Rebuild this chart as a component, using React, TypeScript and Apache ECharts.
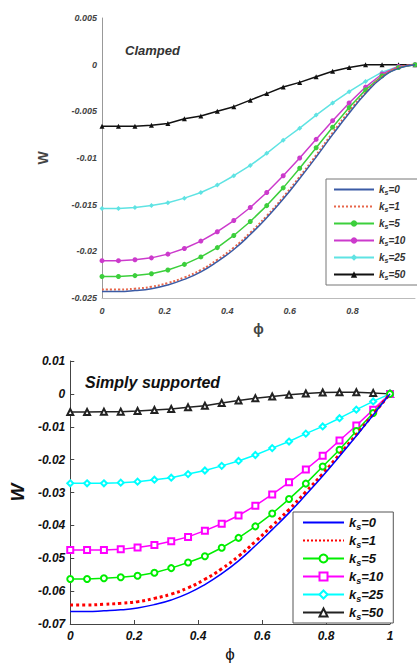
import React, { useEffect, useRef } from "react";
import * as echarts from "echarts";

// phi grid (20 points, markers)
const phi = [0, 0.0526, 0.1053, 0.1579, 0.2105, 0.2632, 0.3158, 0.3684, 0.4211, 0.4737, 0.5263, 0.5789, 0.6316, 0.6842, 0.7368, 0.7895, 0.8421, 0.8947, 0.9474, 1];

const legendNames = ["0", "1", "5", "10", "25", "50"];

// Clamped (top)
const clamped0 = [-0.0243, -0.0243, -0.0242, -0.024, -0.0236, -0.023, -0.0222, -0.0211, -0.0198, -0.0182, -0.0164, -0.0144, -0.0122, -0.0099, -0.0075, -0.0052, -0.0031, -0.0014, -0.0004, 0];
const clamped1 = [-0.0241, -0.0241, -0.024, -0.0238, -0.0234, -0.0228, -0.022, -0.0209, -0.0196, -0.018, -0.0162, -0.0142, -0.012, -0.0097, -0.0073, -0.005, -0.003, -0.0013, -0.0003, 0];
const clamped5 = [-0.0227, -0.0227, -0.0226, -0.0224, -0.022, -0.0214, -0.0206, -0.0196, -0.0183, -0.0168, -0.0151, -0.0132, -0.0111, -0.0089, -0.0067, -0.0046, -0.0027, -0.0012, -0.0003, 0];
const clamped10 = [-0.021, -0.021, -0.0209, -0.0207, -0.0203, -0.0197, -0.0189, -0.0179, -0.0167, -0.0153, -0.0137, -0.0119, -0.01, -0.008, -0.006, -0.0041, -0.0024, -0.001, -0.0002, 0];
const clamped25 = [-0.0154, -0.0154, -0.0153, -0.0151, -0.0148, -0.0143, -0.0137, -0.0129, -0.0119, -0.0108, -0.0095, -0.0081, -0.0068, -0.0054, -0.0041, -0.0029, -0.0018, -0.0008, -0.0002, 0];
const clamped50 = [-0.0066, -0.0066, -0.0066, -0.0065, -0.0063, -0.0058, -0.0055, -0.005, -0.0045, -0.0038, -0.0031, -0.0024, -0.0019, -0.0013, -0.0007, -0.0003, 0, 0, 0, 0];

// Simply supported (bottom)
const simple0 = [-0.0662, -0.0662, -0.066, -0.0657, -0.0651, -0.0641, -0.0627, -0.0607, -0.058, -0.0547, -0.0508, -0.0462, -0.0413, -0.0362, -0.0307, -0.025, -0.019, -0.0128, -0.0064, 0];
const simple1 = [-0.0642, -0.0642, -0.064, -0.0637, -0.0632, -0.0622, -0.0609, -0.059, -0.0564, -0.0532, -0.0494, -0.0449, -0.0401, -0.0352, -0.0298, -0.0243, -0.0184, -0.0124, -0.0062, 0];
const simple5 = [-0.0563, -0.0563, -0.0561, -0.0558, -0.0553, -0.0544, -0.053, -0.0513, -0.0494, -0.0468, -0.0438, -0.0403, -0.0364, -0.032, -0.0273, -0.0221, -0.017, -0.0113, -0.0058, 0];
const simple10 = [-0.0475, -0.0475, -0.0475, -0.0473, -0.0467, -0.046, -0.0448, -0.0435, -0.0416, -0.0395, -0.037, -0.034, -0.0306, -0.0269, -0.023, -0.0188, -0.0142, -0.0096, -0.0048, 0];
const simple25 = [-0.0272, -0.0272, -0.0272, -0.027, -0.0267, -0.0261, -0.0255, -0.0244, -0.0233, -0.0219, -0.0204, -0.0186, -0.0165, -0.0145, -0.0121, -0.0099, -0.0074, -0.0048, -0.0023, 0];
const simple50 = [-0.0055, -0.0055, -0.0054, -0.0054, -0.0052, -0.0049, -0.0046, -0.0041, -0.0036, -0.0028, -0.002, -0.0013, -0.0008, -0.0003, 0.0001, 0.0004, 0.0005, 0.0005, 0.0003, 0];

const pair = (ys: number[]) => ys.map((y, i) => [phi[i], y]);

const FONT = "Liberation Sans, Arial, sans-serif";

export default function App() {
  const ref = useRef<HTMLDivElement>(null);
  useEffect(() => {
    if (!ref.current) return;
    const chart = echarts.init(ref.current, null, { renderer: "svg" });

    const topColors = ["#3b5ba5", "#e8664a", "#3ccf3c", "#cc3acc", "#5fe3e3", "#111111"];
    const botColors = ["#0000ff", "#ff0000", "#00ee00", "#ff00ff", "#00ffff", "#222222"];
    const topData = [clamped0, clamped1, clamped5, clamped10, clamped25, clamped50];
    const botData = [simple0, simple1, simple5, simple10, simple25, simple50];
    const topSymbols = ["none", "none", "circle", "circle", "diamond", "triangle"];
    const botSymbols = ["none", "none", "emptyCircle", "emptyRect", "emptyDiamond", "emptyTriangle"];

    const series: any[] = [];
    topData.forEach((d, k) => {
      series.push({
        name: "c" + legendNames[k],
        type: "line",
        xAxisIndex: 0,
        yAxisIndex: 0,
        data: pair(d),
        smooth: k < 2,
        symbol: topSymbols[k],
        symbolSize: 5,
        showSymbol: k >= 2,
        lineStyle: { color: topColors[k], width: k === 1 ? 2 : 1.5, type: k === 1 ? "dotted" : "solid" },
        itemStyle: { color: topColors[k] },
        z: 10 - k,
      });
    });
    botData.forEach((d, k) => {
      series.push({
        name: "s" + legendNames[k],
        type: "line",
        xAxisIndex: 1,
        yAxisIndex: 1,
        data: pair(d),
        smooth: k < 2,
        symbol: botSymbols[k],
        symbolSize: 6,
        showSymbol: k >= 2,
        lineStyle: { color: botColors[k], width: k === 1 ? 3 : 1.5, type: k === 1 ? "dotted" : "solid" },
        itemStyle: { color: botColors[k], borderWidth: 1.2 },
        z: 10 - k,
      });
    });

    const legendFormatter = (name: string) => "{k|k}{s|s}{e|=" + name.slice(1) + "}";
    const richTop = {
      k: { fontSize: 10, fontWeight: "bold", fontStyle: "italic", fontFamily: FONT, color: "#333", lineHeight: 12 },
      s: { fontSize: 7, fontWeight: "bold", fontStyle: "italic", fontFamily: FONT, color: "#333", padding: [6, 0, 0, 0], lineHeight: 7 },
      e: { fontSize: 10, fontWeight: "bold", fontStyle: "italic", fontFamily: FONT, color: "#333", lineHeight: 12 },
    };
    const richBot = {
      k: { fontSize: 13, fontWeight: "bold", fontStyle: "italic", fontFamily: FONT, color: "#111", lineHeight: 15 },
      s: { fontSize: 9, fontWeight: "bold", fontStyle: "italic", fontFamily: FONT, color: "#111", padding: [8, 0, 0, 0], lineHeight: 9 },
      e: { fontSize: 13, fontWeight: "bold", fontStyle: "italic", fontFamily: FONT, color: "#111", lineHeight: 15 },
    };

    const legendItems = (prefix: string) =>
      legendNames.map((n, k) =>
        k < 2 ? { name: prefix + n, itemStyle: { opacity: 0 } } : { name: prefix + n }
      );

    const topLabel = { fontSize: 9, fontWeight: "bold", fontStyle: "italic", fontFamily: FONT, color: "#444" };
    const botLabel = { fontSize: 12, fontWeight: "bold", fontStyle: "italic", fontFamily: FONT, color: "#111" };

    chart.setOption({
      animation: false,
      grid: [
        { left: 102, right: 2, top: 18, bottom: 366 },
        { left: 69, right: 27, top: 361, bottom: 37 },
      ],
      xAxis: [
        {
          type: "value", gridIndex: 0, min: 0, max: 1, interval: 0.2,
          name: "ϕ", nameLocation: "middle", nameGap: 24,
          nameTextStyle: { fontSize: 14, fontWeight: "bold", color: "#444", fontFamily: FONT },
          axisLine: { show: true, onZero: false, lineStyle: { color: "#bbb", width: 1 } },
          axisTick: { show: false },
          splitLine: { show: false },
          axisLabel: { ...topLabel, margin: 8, showMaxLabel: false },
        },
        {
          type: "value", gridIndex: 1, min: 0, max: 1, interval: 0.2,
          name: "ϕ", nameLocation: "middle", nameGap: 22,
          nameTextStyle: { fontSize: 17, color: "#111", fontFamily: FONT },
          axisLine: { show: true, onZero: false, lineStyle: { color: "#444", width: 1 } },
          axisTick: { show: true, inside: true, length: 4, lineStyle: { color: "#444" } },
          splitLine: { show: false },
          axisLabel: { ...botLabel, margin: 6 },
        },
      ],
      yAxis: [
        {
          type: "value", gridIndex: 0, min: -0.025, max: 0.005, interval: 0.005,
          name: "W", nameLocation: "middle", nameGap: 52, nameRotate: 90,
          nameTextStyle: { fontSize: 14, fontWeight: "bold", color: "#444", fontFamily: FONT },
          axisLine: { show: true, onZero: false, lineStyle: { color: "#999", width: 1 } },
          axisTick: { show: false },
          splitLine: { show: false },
          axisLabel: { ...topLabel, margin: 5 },
        },
        {
          type: "value", gridIndex: 1, min: -0.07, max: 0.01, interval: 0.01,
          name: "W", nameLocation: "middle", nameGap: 38, nameRotate: 90,
          nameTextStyle: { fontSize: 19, fontWeight: "bold", fontStyle: "italic", color: "#111", fontFamily: FONT },
          axisLine: { show: true, onZero: false, lineStyle: { color: "#444", width: 1 } },
          axisTick: { show: true, inside: true, length: 4, lineStyle: { color: "#444" } },
          splitLine: { show: false },
          axisLabel: { ...botLabel, margin: 5 },
        },
      ],
      legend: [
        {
          data: legendItems("c"),
          orient: "vertical",
          left: 326, top: 179, width: 81,
          padding: [4, 14, 4, 7],
          itemWidth: 40, itemHeight: 8, itemGap: 4,
          backgroundColor: "#fff",
          borderColor: "#777", borderWidth: 1,
          formatter: legendFormatter,
          textStyle: { rich: richTop },
          selectedMode: false,
        },
        {
          data: legendItems("s"),
          orient: "vertical",
          left: 293, top: 512, width: 90,
          padding: [2, 10, 2, 9],
          itemWidth: 41, itemHeight: 10, itemGap: 1,
          backgroundColor: "#fff",
          borderColor: "#555", borderWidth: 1,
          formatter: legendFormatter,
          textStyle: { rich: richBot },
          selectedMode: false,
        },
      ],
      graphic: [
        {
          type: "text", left: 125, top: 44,
          style: { text: "Clamped", fontSize: 13, fontWeight: "bold", fontStyle: "italic", fontFamily: FONT, fill: "#333" },
        },
        {
          type: "text", left: 85, top: 374,
          style: { text: "Simply supported", fontSize: 16, fontWeight: "bold", fontStyle: "italic", fontFamily: FONT, fill: "#111" },
        },
      ],
      series,
    });
    return () => chart.dispose();
  }, []);
  return <div ref={ref} style={{ width: 417, height: 664, position: "absolute", left: 0, top: 0 }} />;
}
